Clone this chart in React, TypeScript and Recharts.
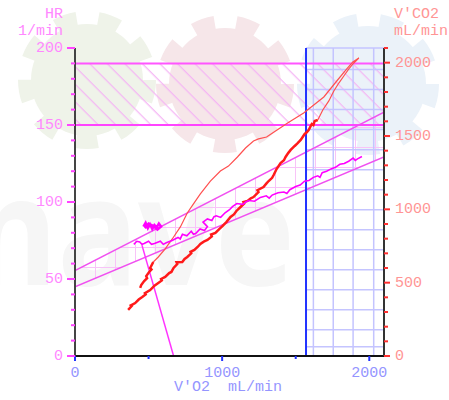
import React from 'react';
import { ComposedChart, Line, Area, XAxis, YAxis, ReferenceLine, ReferenceArea } from 'recharts';

const FONT = '"Liberation Mono", "DejaVu Sans Mono", monospace';

// axis ticks
const vo2Ticks = [0, 500, 1000, 1500, 2000];
const hrTicks = [0, 10, 20, 30, 40, 50, 60, 70, 80, 90, 100, 110, 120, 130, 140, 150, 160, 170, 180, 190, 200];
const co2Ticks = [0, 100, 200, 300, 400, 500, 600, 700, 800, 900, 1000, 1100, 1200, 1300, 1400, 1500, 1600, 1700, 1800, 1900, 2000, 2100];

// HR vs V'O2 during exercise
const hrExVo2 = [400, 420, 440, 455, 470, 500, 520, 540, 580, 600, 620, 660, 700, 715, 730, 760, 790, 805, 820, 850, 880, 900, 870, 900, 930, 945, 960, 990, 1020, 1050, 1070, 1100, 1140, 1160, 1180, 1220, 1260, 1300, 1320, 1340, 1380, 1420, 1440, 1460, 1500, 1530, 1560, 1590, 1620, 1650, 1665, 1680, 1710, 1740, 1770, 1800, 1830, 1860, 1890, 1905, 1920, 1950];
const hrExVal = [72.5, 74.5, 74, 72.5, 73, 74.5, 72.5, 73, 74.5, 72.5, 73.5, 75, 77, 76, 79, 78, 81, 79, 79.5, 82.5, 81.5, 84, 87, 89, 88, 90.5, 91, 90, 93, 95, 97, 99, 98.5, 100, 101, 100.5, 103, 104, 102.5, 104.5, 106, 106.5, 105.5, 108, 110, 111, 113.5, 114, 116, 117, 116, 119, 120, 121.5, 122.5, 124.5, 125, 126.5, 128.5, 127, 128, 129.5];

// HR cluster at low load
const hrRestVo2 = [465, 480, 495, 510, 525, 540, 555, 570, 585, 560, 530, 500, 475];
const hrRestVal = [84, 86.5, 83, 85.5, 82.5, 85, 83.5, 86, 84, 82, 84.5, 86, 83];

// predicted HR band (lower / upper) and HR reserve line
const bandVo2 = [0, 2100];
const bandLow = [45, 129.2];
const bandHigh = [55.4, 158.4];
const slopeVo2 = [455, 670];
const slopeHr = [72, 0];

// V'CO2 vs V'O2: exercise (thick), peak + recovery (thin), end of recovery (thick)
const co2ExVo2 = [361, 385, 380, 409, 433, 457, 480, 475, 511, 540, 566, 590, 585, 613, 640, 655, 670, 695, 690, 729, 745, 763, 790, 785, 811, 835, 852, 875, 900, 930, 925, 954, 980, 1002, 1030, 1057, 1080, 1097, 1125, 1150, 1145, 1172, 1195, 1213, 1247, 1240, 1281, 1300, 1316, 1340, 1350, 1370, 1397, 1420, 1431, 1450, 1466, 1493, 1510, 1534, 1561, 1575, 1588, 1609, 1620, 1629, 1650];
const co2ExVal = [314, 340, 345, 361, 385, 402, 420, 428, 450, 480, 498, 515, 525, 539, 565, 573, 600, 627, 640, 641, 662, 675, 700, 710, 723, 745, 764, 780, 791, 815, 828, 839, 865, 886, 915, 948, 965, 989, 1016, 1040, 1050, 1057, 1075, 1084, 1118, 1130, 1152, 1175, 1193, 1215, 1234, 1275, 1316, 1335, 1357, 1385, 1405, 1432, 1448, 1473, 1514, 1525, 1541, 1582, 1575, 1602, 1609];
const co2PeakVo2 = [1650, 1684, 1725, 1759, 1793, 1827, 1861, 1895, 1929, 1888, 1847, 1779, 1691, 1554, 1445, 1363, 1302, 1247, 1213, 1159, 1104, 1043, 988, 920, 852, 804, 763, 716, 661, 613, 566, 532];
const co2PeakVal = [1609, 1677, 1739, 1807, 1861, 1909, 1957, 1998, 2032, 2005, 1957, 1875, 1766, 1657, 1589, 1534, 1493, 1480, 1466, 1418, 1357, 1295, 1261, 1193, 1105, 1036, 975, 880, 798, 730, 675, 641];
const co2EndVo2 = [532, 511, 520, 504, 484, 490, 470, 450, 443];
const co2EndVal = [641, 600, 590, 573, 545, 530, 511, 484, 464];

// AT marker and blue grid
const atVo2 = 1570;
const gridVo2 = [1620, 1755, 1890, 2030];
const gridHr = [200, 186, 173, 160, 147, 134, 121, 108, 95, 82, 69, 56, 43, 30, 17, 6];

const zip = (xs: number[], ys: number[], key: string) => xs.map((v, i) => ({ v, [key]: ys[i] }));

const hrEx = zip(hrExVo2, hrExVal, 'hr');
const hrRest = zip(hrRestVo2, hrRestVal, 'hr');
const bandLowData = zip(bandVo2, bandLow, 'hr');
const bandHighData = zip(bandVo2, bandHigh, 'hr');
const bandArea = bandVo2.map((v, i) => ({ v, range: [bandLow[i], bandHigh[i]] }));
const slopeData = zip(slopeVo2, slopeHr, 'hr');
const co2Ex = zip(co2ExVo2, co2ExVal, 'co2');
const co2Peak = zip(co2PeakVo2, co2PeakVal, 'co2');
const co2End = zip(co2EndVo2, co2EndVal, 'co2');

const VO2Tick = (props: any) => {
  const { x, y, payload } = props;
  const major = payload.value % 1000 === 0;
  return (
    <g>
      <line x1={x} x2={x} y1={y} y2={y + (major ? 5 : 3)} stroke="#2233ff" strokeWidth={2} />
      {major && (
        <text x={x} y={y + 17} textAnchor="middle" dominantBaseline="middle" fill="#9595ff" fontFamily={FONT} fontSize={15}>
          {payload.value}
        </text>
      )}
    </g>
  );
};

const HRTick = (props: any) => {
  const { x, y, payload } = props;
  const major = payload.value % 50 === 0;
  return (
    <g>
      <line x1={x - (major ? 8 : 4)} x2={x} y1={y} y2={y} stroke="#ff44ff" strokeWidth={2} />
      {major && (
        <text x={x - 12} y={y} textAnchor="end" dominantBaseline="middle" fill="#ff88ff" fontFamily={FONT} fontSize={15}>
          {payload.value}
        </text>
      )}
    </g>
  );
};

const CO2Tick = (props: any) => {
  const { x, y, payload } = props;
  const major = payload.value % 500 === 0;
  return (
    <g>
      <line x1={x} x2={x + (major ? 6 : 4)} y1={y} y2={y} stroke="#ff3030" strokeWidth={2} />
      {major && (
        <text x={x + 11} y={y} textAnchor="start" dominantBaseline="middle" fill="#ff9595" fontFamily={FONT} fontSize={15}>
          {payload.value}
        </text>
      )}
    </g>
  );
};

const Gear = ({ cx, cy, r, color }: { cx: number; cy: number; r: number; color: string }) => {
  const c = 2 * Math.PI * (r + 6);
  const period = c / 9;
  return (
    <g>
      <circle cx={cx} cy={cy} r={r} fill={color} />
      <circle cx={cx} cy={cy} r={r + 6} fill="none" stroke={color} strokeWidth={14} strokeDasharray={`${period * 0.5} ${period * 0.5}`} />
    </g>
  );
};

const App: React.FC = () => {
  return (
    <div style={{ position: 'absolute', left: 0, top: 0, width: 449, height: 400, background: '#fff' }}>
      {/* watermark */}
      <svg width={449} height={400} style={{ position: 'absolute', left: 0, top: 0 }}>
        <Gear cx={87} cy={80} r={56} color="#eff3e9" />
        <Gear cx={225} cy={84} r={56} color="#f6e6e9" />
        <Gear cx={368} cy={84} r={58} color="#ebf2f9" />
        <text x={-30} y={285} fontFamily="Noto Sans" fontWeight={700} fontSize={150} fill="#f6f6f6" textLength={325} lengthAdjust="spacingAndGlyphs">
          nave
        </text>
      </svg>

      <div style={{ position: 'absolute', left: 0, top: 0 }}>
        <ComposedChart width={449} height={400} margin={{ top: 48, right: 0, bottom: 0, left: 0 }}>
          <defs>
            <pattern id="hatch" patternUnits="userSpaceOnUse" width={12.4} height={12.4} patternTransform="rotate(-45)">
              <line x1={6} y1={0} x2={6} y2={12.4} stroke="#f5b3f5" strokeWidth={1.2} />
            </pattern>
            <pattern id="pinkGrid" patternUnits="userSpaceOnUse" x={15} y={7} width={20} height={20}>
              <line x1={0.5} y1={0} x2={0.5} y2={20} stroke="#f8c4f8" strokeWidth={1} />
              <line x1={0} y1={0.5} x2={20} y2={0.5} stroke="#f8c4f8" strokeWidth={1} />
            </pattern>
          </defs>
          <XAxis
            type="number"
            dataKey="v"
            domain={[0, 2100]}
            ticks={vo2Ticks}
            interval={0}
            allowDataOverflow
            height={44}
            tickSize={0}
            tickMargin={0}
            tickLine={false}
            tick={<VO2Tick />}
            axisLine={{ stroke: '#111', strokeWidth: 2 }}
          />
          <YAxis
            yAxisId="hr"
            orientation="left"
            type="number"
            domain={[0, 200]}
            ticks={hrTicks}
            interval={0}
            allowDataOverflow
            width={75}
            tickSize={0}
            tickMargin={0}
            tickLine={false}
            tick={<HRTick />}
            axisLine={{ stroke: '#444', strokeWidth: 2 }}
          />
          <YAxis
            yAxisId="co2"
            orientation="right"
            type="number"
            domain={[0, 2100]}
            ticks={co2Ticks}
            interval={0}
            allowDataOverflow
            width={65}
            tickSize={0}
            tickMargin={0}
            tickLine={false}
            tick={<CO2Tick />}
            axisLine={{ stroke: '#333', strokeWidth: 2 }}
          />

          <ReferenceArea yAxisId="hr" x1={0} x2={2100} y1={150} y2={190} fill="url(#hatch)" fillOpacity={1} stroke="none" />
          <Area
            data={bandArea}
            dataKey="range"
            yAxisId="hr"
            type="linear"
            fill="url(#pinkGrid)"
            fillOpacity={1}
            stroke="none"
            dot={false}
            activeDot={false}
            isAnimationActive={false}
          />

          {gridVo2.map((g) => (
            <ReferenceLine key={`gx${g}`} yAxisId="hr" x={g} stroke="#c4c4ff" strokeWidth={1.5} />
          ))}
          {gridHr.map((h) => (
            <ReferenceLine
              key={`gy${h}`}
              yAxisId="hr"
              segment={[{ x: atVo2, y: h }, { x: 2100, y: h }]}
              stroke="#c4c4ff"
              strokeWidth={1.5}
            />
          ))}

          <ReferenceLine yAxisId="hr" y={190} stroke="#ff55ff" strokeWidth={2} />
          <ReferenceLine yAxisId="hr" y={150} stroke="#ff44ff" strokeWidth={2} />

          <Line data={bandLowData} dataKey="hr" yAxisId="hr" type="linear" stroke="#f050f0" strokeWidth={1.5} dot={false} activeDot={false} isAnimationActive={false} />
          <Line data={bandHighData} dataKey="hr" yAxisId="hr" type="linear" stroke="#f050f0" strokeWidth={1.5} dot={false} activeDot={false} isAnimationActive={false} />

          <ReferenceLine yAxisId="hr" x={atVo2} stroke="#2233ff" strokeWidth={2} />

          <Line data={slopeData} dataKey="hr" yAxisId="hr" type="linear" stroke="#ff33ff" strokeWidth={1.5} dot={false} activeDot={false} isAnimationActive={false} />

          <Line data={co2Ex} dataKey="co2" yAxisId="co2" type="linear" stroke="#ff1a1a" strokeWidth={2.5} dot={false} activeDot={false} isAnimationActive={false} />
          <Line data={co2Peak} dataKey="co2" yAxisId="co2" type="linear" stroke="#ff5050" strokeWidth={1.2} dot={false} activeDot={false} isAnimationActive={false} />
          <Line data={co2End} dataKey="co2" yAxisId="co2" type="linear" stroke="#ff1a1a" strokeWidth={2.5} dot={false} activeDot={false} isAnimationActive={false} />

          <Line data={hrEx} dataKey="hr" yAxisId="hr" type="linear" stroke="#ff00ff" strokeWidth={1.6} dot={false} activeDot={false} isAnimationActive={false} />
          <Line data={hrRest} dataKey="hr" yAxisId="hr" type="linear" stroke="#ff00ff" strokeWidth={2.5} dot={false} activeDot={false} isAnimationActive={false} />
        </ComposedChart>
      </div>

      {/* axis titles */}
      <svg width={449} height={400} style={{ position: 'absolute', left: 0, top: 0, pointerEvents: 'none' }}>
        <g fontFamily={FONT} fontSize={15}>
          <text x={63} y={14} textAnchor="end" dominantBaseline="middle" fill="#ff88ff">HR</text>
          <text x={63} y={31} textAnchor="end" dominantBaseline="middle" fill="#ff88ff">1/min</text>
          <text x={394} y={14} textAnchor="start" dominantBaseline="middle" fill="#ff9595">V'CO2</text>
          <text x={394} y={31} textAnchor="start" dominantBaseline="middle" fill="#ff9595">mL/min</text>
          <text x={228} y={387} textAnchor="middle" dominantBaseline="middle" fill="#9595ff" style={{ whiteSpace: 'pre' }}>
            {"V'O2  mL/min"}
          </text>
        </g>
      </svg>
    </div>
  );
};

export default App;
